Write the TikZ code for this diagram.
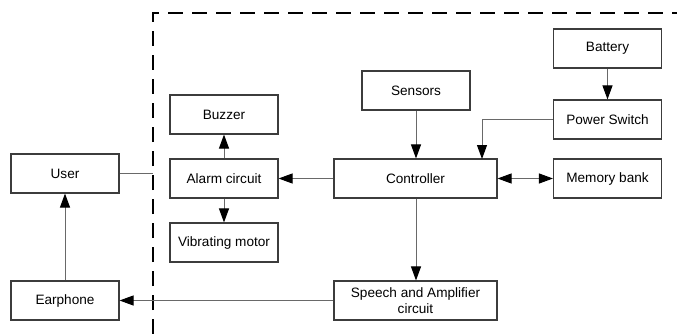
\documentclass[tikz,border=0pt]{standalone}
\usepackage{fontspec}
\setmainfont{Liberation Sans}
\usetikzlibrary{arrows.meta}
\definecolor{box_line}{RGB}{60, 60, 60}
\definecolor{wire_line}{RGB}{105, 105, 105}
\tikzstyle{blk}=[rectangle,draw=box_line,line width=1.1pt,fill=white,
  minimum width=108pt,minimum height=39pt,inner sep=2pt,align=center,
  font=\fontsize{13.6}{15.5}\selectfont]
\tikzstyle{wideblk}=[blk,minimum width=163pt]
\tikzstyle{wire}=[draw=wire_line,line width=1pt]
\tikzstyle{arr}=[wire,-{Triangle[length=14pt,width=10pt,color=black]}]
\tikzstyle{darr}=[wire,{Triangle[length=14pt,width=10pt,color=black]}-{Triangle[length=14pt,width=10pt,color=black]}]

\begin{document}
\begin{tikzpicture}[x=1pt,y=-1pt]
    \useasboundingbox (0,0) rectangle (677,334);
    \draw[line width=1.8pt,dash pattern=on 15pt off 9pt] (153,334) -- (153,13) -- (677,13);
    \node [style=blk] (buzzer) at (224, 114.5) {Buzzer};
    \node [style=blk] (user) at (65, 173.5) {User};
    \node [style=blk] (alarm) at (224, 178.5) {Alarm circuit};
    \node [style=blk] (vibra) at (224, 242.5) {Vibrating motor};
    \node [style=blk] (earph) at (65, 300.5) {Earphone};
    \node [style=blk] (sensors) at (416, 90.5) {Sensors};
    \node [style=blk] (battery) at (607.5, 48.5) {Battery};
    \node [style=blk] (power) at (607.5, 119.5) {Power Switch};
    \node [style=wideblk] (ctrl) at (415.5, 178.5) {Controller};
    \node [style=blk] (memory) at (607.5, 178.5) {Memory bank};
    \node [style=wideblk] (speech) at (415.5, 300.5) {Speech and Amplifier\\circuit};
    \coordinate (userend) at (153, 173.5);
    \draw [style=wire] (user) to (userend);
    \draw [style=arr] (earph) to (user);
    \draw [style=arr] (alarm) to (buzzer);
    \draw [style=arr] (alarm) to (vibra);
    \draw [style=arr] (ctrl) to (alarm);
    \draw [style=arr] (sensors) to (sensors |- ctrl.north);
    \draw [style=arr] (battery) to (power);
    \draw [style=arr] (power.west) -| (482, 159);
    \draw [style=darr] (ctrl) to (memory);
    \draw [style=arr] (ctrl.south -| sensors) to (speech.north -| sensors);
    \draw [style=arr] (speech) to (earph);
  \end{tikzpicture}
\end{document}
